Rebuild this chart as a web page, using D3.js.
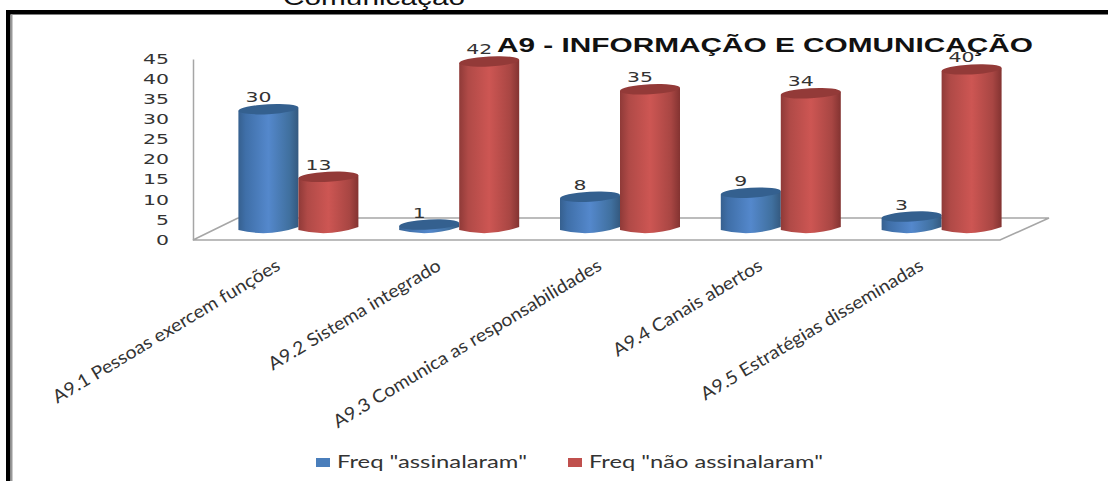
<!DOCTYPE html>
<html><head><meta charset="utf-8">
<script src="https://cdn.jsdelivr.net/npm/d3@7/dist/d3.min.js"></script>
<style>html,body{margin:0;padding:0;background:#fff;overflow:hidden}svg{display:block}</style>
</head><body><svg id="c" width="1108" height="481"></svg>
<script>
const categories = ["A9.1 Pessoas exercem funções","A9.2 Sistema integrado","A9.3 Comunica as responsabilidades","A9.4 Canais abertos","A9.5 Estratégias disseminadas"];
const assinalaram = [30,1,8,9,3];
const naoAssinalaram = [13,42,35,34,40];
const seriesNames = ['Freq "assinalaram"','Freq "não assinalaram"'];
const ticks = [0,5,10,15,20,25,30,35,40,45];
const titleText = "A9 - INFORMAÇÃO E COMUNICAÇÃO";
const headingText = "Comunicação";

const svg = d3.select("#c");
const defs = svg.append("defs");
function grad(id,stops){
  const g = defs.append("linearGradient").attr("id",id);
  stops.forEach(([o,c])=>g.append("stop").attr("offset",o).attr("stop-color",c));
}
grad("gb",[[0,"#36608f"],[.12,"#3f6fa8"],[.5,"#5488cc"],[.85,"#40709f"],[1,"#34597f"]]);
grad("gr",[[0,"#8f3a38"],[.15,"#b04a47"],[.5,"#cd5653"],[.85,"#a84643"],[1,"#833331"]]);
const colors = [{body:"url(#gb)",top:"#34608f",sw:"#4a7ebb"},{body:"url(#gr)",top:"#933a38",sw:"#c0504d"}];

// frame and clipped heading
svg.append("text").attr("x",283).attr("y",5).attr("font-family","Liberation Sans").attr("font-size",22)
  .attr("textLength",182).attr("lengthAdjust","spacingAndGlyphs").attr("fill","#111").text(headingText);
svg.append("rect").attr("x",6).attr("y",10).attr("width",1102).attr("height",4.5).attr("fill","#000");
svg.append("rect").attr("x",6).attr("y",10).attr("width",4.5).attr("height",471).attr("fill","#000");
svg.append("rect").attr("x",10.5).attr("y",14.5).attr("width",2).attr("height",467).attr("fill","#999");

// scales
const yAxisScale = d3.scaleLinear().domain([0,45]).range([240,59]);
const yBar = d3.scaleLinear().domain([0,45]).range([228.5,49.5]);
const x0 = d3.scaleBand().domain(categories).range([218,1022]);
const x1 = d3.scaleBand().domain([0,1]).range([0,120]);
const groupLeft = c => x0(c)+x0.bandwidth()/2-60;

// floor
const floor = d3.path();
floor.moveTo(238,218);floor.lineTo(1049,218);floor.lineTo(1000,240);floor.lineTo(193,240);floor.lineTo(238,218);
svg.append("path").attr("d",floor.toString()).attr("fill","none").attr("stroke","#a6a6a6").attr("stroke-width",1.5);

// value axis
const ax = svg.append("g").attr("transform","translate(193,0)")
  .call(d3.axisLeft(yAxisScale).tickValues(ticks).tickSize(0).tickPadding(24));
ax.select(".domain").attr("stroke","#a6a6a6").attr("stroke-width",1.5);
ax.selectAll("text").attr("font-family","DejaVu Sans").attr("font-size",13.5).attr("fill","#333")
  .attr("textLength",d=>String(d).length*13).attr("lengthAdjust","spacingAndGlyphs");

// cylinders
const rows = categories.map((c,i)=>({c,vals:[assinalaram[i],naoAssinalaram[i]]}));
const rx = 30, ry = 5, tilt = -3;
rows.forEach(r=>{
  r.vals.forEach((v,s)=>{
    const cx = groupLeft(r.c)+x1(s)+x1.bandwidth()/2;
    const yt = yBar(v), yb = yBar(0);
    const g = svg.append("g");
    const p = d3.path();
    p.moveTo(cx-rx,yt+1.5);p.lineTo(cx-rx,yb+1.5);
    p.quadraticCurveTo(cx,yb+9,cx+rx,yb-1.5);
    p.lineTo(cx+rx,yt-1.5);p.closePath();
    g.append("path").attr("d",p.toString()).attr("fill",colors[s].body);
    g.append("ellipse").attr("cx",cx).attr("cy",yt).attr("rx",rx).attr("ry",ry)
      .attr("transform",`rotate(${tilt} ${cx} ${yt})`).attr("fill",colors[s].top);
    svg.append("text").attr("x",cx-10).attr("y",yt-12).attr("dy","0.36em").attr("text-anchor","middle")
      .attr("font-family","DejaVu Sans").attr("font-size",14).attr("fill","#333")
      .attr("textLength",String(v).length*13).attr("lengthAdjust","spacingAndGlyphs").text(v);
  });
});

// title
svg.append("text").attr("x",497).attr("y",52).attr("font-family","Liberation Sans").attr("font-weight","bold")
  .attr("font-size",20).attr("textLength",536).attr("lengthAdjust","spacingAndGlyphs").attr("fill","#111").text(titleText);

// category labels
svg.append("g").selectAll("text").data(categories).join("text")
  .attr("transform",d=>`translate(${x0(d)+x0.bandwidth()/2-17},269) rotate(-31)`)
  .attr("text-anchor","end").attr("font-family","Lato").attr("font-size",18).attr("fill","#333").text(d=>d)
  .each(function(){
    const len = this.getComputedTextLength();
    d3.select(this).attr("textLength",len*1.08).attr("lengthAdjust","spacingAndGlyphs");
  });

// legend
const legendX = [316,568], legendLen = [190,234];
seriesNames.forEach((n,i)=>{
  svg.append("rect").attr("x",legendX[i]).attr("y",458).attr("width",14).attr("height",9).attr("fill",colors[i].sw);
  svg.append("text").attr("x",legendX[i]+21).attr("y",468).attr("font-family","Lato").attr("font-size",17)
    .attr("textLength",legendLen[i]).attr("lengthAdjust","spacingAndGlyphs").attr("fill","#333").text(n);
});
</script></body></html>
